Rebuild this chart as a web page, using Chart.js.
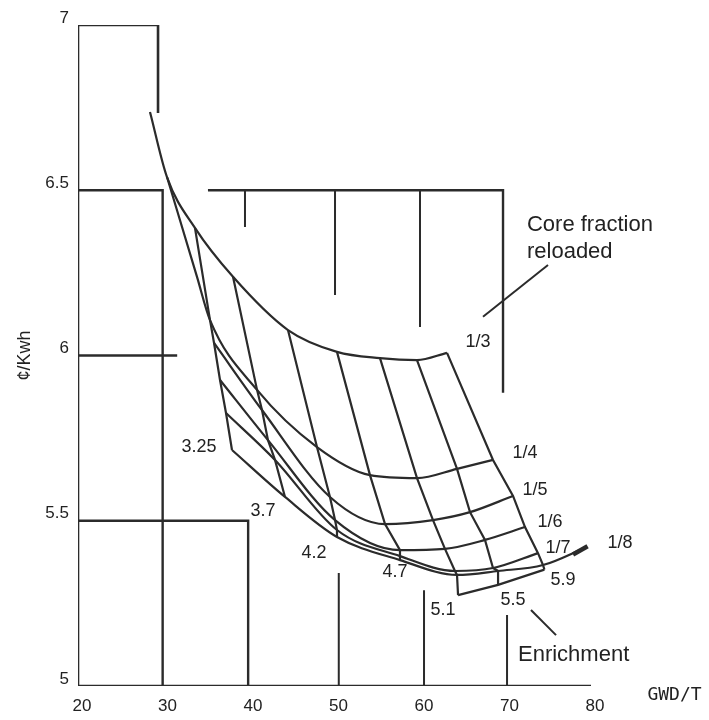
<!DOCTYPE html>
<html lang="en">
<head>
    <meta charset="UTF-8">
    <title>Fuel cycle cost vs burnup</title>
    <script src="https://cdn.jsdelivr.net/npm/chart.js"></script>
    <style>
        body { margin: 0; padding: 0; background: #fff; }
        canvas { display: block; }
    </style>
</head>
<body>
    <canvas id="costChart" width="709" height="720"></canvas>
    <script>
        // enrichment (%) and core fraction reloaded
        const enrichment = ['3.25', '3.7', '4.2', '4.7', '5.1', '5.5', '5.9'];
        const fractions = ['1/3', '1/4', '1/5', '1/6', '1/7', '1/8'];

        // burnup (GWD/T) and cost (cents/Kwh) per core fraction, one value per enrichment
        const burnup3 = [33.68, 38.13, 44.56, 50.29, 55.32, 59.65, 63.16];
        const cost3   = [6.386, 6.238, 6.077, 6.011, 5.992, 5.986, 6.008];
        const burnup4 = [35.44, 40.94, 47.95, 54.15, 59.65, 64.33, 68.54];
        const cost4   = [6.107, 5.896, 5.723, 5.638, 5.629, 5.657, 5.684];
        const burnup5 = [35.91, 41.52, 49.47, 55.91, 61.52, 65.85, 70.88];
        const cost5   = [6.038, 5.835, 5.572, 5.490, 5.502, 5.526, 5.575];
        const burnup6 = [36.61, 42.22, 50.06, 57.66, 62.92, 67.60, 72.28];
        const cost6   = [5.926, 5.744, 5.502, 5.411, 5.415, 5.442, 5.481];
        const burnup7 = [37.31, 43.04, 50.29, 57.66, 64.09, 68.54, 73.80];
        const cost7   = [5.826, 5.684, 5.472, 5.393, 5.348, 5.357, 5.402];
        const burnup8 = [38.01, 44.21, 50.29, 57.66, 64.33, 69.13, 74.39];
        const cost8   = [5.714, 5.572, 5.451, 5.381, 5.336, 5.348, 5.366];

        // low enrichment tails of the 1/3 and 1/4 curves
        const tailBurnup3 = [28.42, 30.41];
        const tailCost3   = [6.737, 6.540];
        const tailBurnup4 = [30.41, 33.92];
        const tailCost4   = [6.540, 6.238];

        // 1/8 curve running out to its label
        const pointerBurnup8 = [79.53];
        const pointerCost8   = [5.421];

        // lowest edge for the three highest enrichments
        const edgeBurnup = [64.45, 69.13, 74.55];
        const edgeCost   = [5.275, 5.306, 5.352];

        // drafting frame
        const frameX = [29.36, 29.36, 20, 20, 80];
        const frameY = [6.734, 7, 7, 5, 5];
        const step65X = [20, 29.9, 29.9];
        const step65Y = [6.5, 6.5, 5];
        const step6X = [20, 31.6];
        const step6Y = [6, 6];
        const step55X = [20, 39.9, 39.9];
        const step55Y = [5.5, 5.5, 5];
        const barX = [50.5, 60.47, 70.18];
        const barTop = [5.342, 5.29, 5.215];
        const bracketX = [35.2, 69.71, 69.71];
        const bracketY = [6.5, 6.5, 5.887];
        const bracketTickX = [39.53, 50.06, 60.0];
        const bracketTickEnd = [6.389, 6.183, 6.086];

        // leader lines
        const coreLeaderX = [67.37, 74.97];
        const coreLeaderY = [6.117, 6.274];
        const enrLeaderX = [72.98, 75.91];
        const enrLeaderY = [5.230, 5.154];
        const arrowX = [77.9, 79.6];
        const arrowY = [5.398, 5.423];

        // label anchors
        const fracLabelX = [66.78, 72.28, 73.45, 75.20, 76.14, 83.39];
        const fracLabelY = [6.041, 5.705, 5.593, 5.496, 5.418, 5.433];
        const enrLabelX = [34.15, 41.64, 47.60, 57.08, 62.69, 70.88, 76.73];
        const enrLabelY = [5.723, 5.529, 5.402, 5.345, 5.230, 5.260, 5.321];

        const ink = '#2b2b2b';

        function pts(xs, ys) {
            return xs.map((x, i) => ({ x: x, y: ys[i] }));
        }
        function line(xs, ys, curved, width) {
            return {
                data: pts(xs, ys),
                showLine: true,
                borderColor: ink,
                borderWidth: width || 2.2,
                pointRadius: 0,
                tension: 0,
                cubicInterpolationMode: curved ? 'monotone' : 'default'
            };
        }

        const rows = [
            [burnup3, cost3], [burnup4, cost4], [burnup5, cost5],
            [burnup6, cost6], [burnup7, cost7], [burnup8, cost8]
        ];

        const datasets = [];
        // frame
        datasets.push(line(frameX, frameY, false, 2.6));
        datasets.push(line(step65X, step65Y, false, 2.4));
        datasets.push(line(step6X, step6Y, false, 2.4));
        datasets.push(line(step55X, step55Y, false, 2.4));
        barX.forEach((x, i) => datasets.push(line([x, x], [barTop[i], 5], false, 2)));
        datasets.push(line(bracketX, bracketY, false, 2.4));
        bracketTickX.forEach((x, i) => datasets.push(line([x, x], [6.5, bracketTickEnd[i]], false, 2)));

        // core fraction curves
        datasets.push(line(tailBurnup3.concat(burnup3), tailCost3.concat(cost3), true));
        datasets.push(line(tailBurnup4.concat(burnup4), tailCost4.concat(cost4), true));
        datasets.push(line(burnup5, cost5, true));
        datasets.push(line(burnup6, cost6, true));
        datasets.push(line(burnup7, cost7, true));
        datasets.push(line(burnup8.concat(pointerBurnup8), cost8.concat(pointerCost8), true));
        datasets.push(line(edgeBurnup, edgeCost, false));
        datasets.push(line(arrowX, arrowY, false, 4.5));

        // enrichment lines
        enrichment.forEach((e, j) => {
            const xs = rows.map(r => r[0][j]);
            const ys = rows.map(r => r[1][j]);
            if (j >= 4) { xs.push(edgeBurnup[j - 4]); ys.push(edgeCost[j - 4]); }
            datasets.push(line(xs, ys, false));
        });

        // leaders
        datasets.push(line(coreLeaderX, coreLeaderY, false, 2));
        datasets.push(line(enrLeaderX, enrLeaderY, false, 2));

        const textPlugin = {
            id: 'carpetText',
            afterDraw(chart) {
                const ctx = chart.ctx;
                const xs = chart.scales.x, ys = chart.scales.y;
                ctx.save();
                ctx.fillStyle = '#222';
                ctx.textAlign = 'center';
                ctx.textBaseline = 'middle';
                ctx.font = '18px "Liberation Sans", Arial, sans-serif';
                fractions.forEach((f, i) => {
                    ctx.fillText(f, xs.getPixelForValue(fracLabelX[i]), ys.getPixelForValue(fracLabelY[i]));
                });
                enrichment.forEach((e, i) => {
                    ctx.fillText(e, xs.getPixelForValue(enrLabelX[i]), ys.getPixelForValue(enrLabelY[i]));
                });
                ctx.textAlign = 'left';
                ctx.font = '22px "Liberation Sans", Arial, sans-serif';
                ctx.fillText('Core fraction', xs.getPixelForValue(72.51), ys.getPixelForValue(6.395));
                ctx.fillText('reloaded', xs.getPixelForValue(72.51), ys.getPixelForValue(6.313));
                ctx.fillText('Enrichment', xs.getPixelForValue(71.46), ys.getPixelForValue(5.094));
                ctx.font = '18px "DejaVu Sans Mono", monospace';
                ctx.fillText('GWD/T', xs.getPixelForValue(86.6), ys.getPixelForValue(4.973));
                ctx.restore();
            }
        };

        new Chart(document.getElementById('costChart').getContext('2d'), {
            type: 'scatter',
            data: { datasets: datasets },
            options: {
                responsive: false,
                animation: false,
                layout: { padding: { top: 25, right: 118, left: 0, bottom: 0 } },
                plugins: { legend: { display: false }, tooltip: { enabled: false } },
                scales: {
                    x: {
                        min: 20, max: 80,
                        afterFit: s => { s.height = 34; },
                        grid: { display: false, drawTicks: false },
                        border: { display: false },
                        ticks: {
                            stepSize: 10, padding: 10, labelOffset: 4, color: '#222',
                            font: { size: 17, family: '"Liberation Sans", Arial, sans-serif' }
                        }
                    },
                    y: {
                        min: 5, max: 7,
                        afterFit: s => { s.width = 78; },
                        grid: { display: false, drawTicks: false },
                        border: { display: false },
                        title: {
                            display: true, text: '¢/Kwh', color: '#222',
                            padding: { top: 14, bottom: 0 },
                            font: { size: 18, family: '"Liberation Sans", Arial, sans-serif' }
                        },
                        ticks: {
                            stepSize: 0.5, padding: 9, labelOffset: -7, color: '#222',
                            callback: v => String(v),
                            font: { size: 17, family: '"Liberation Sans", Arial, sans-serif' }
                        }
                    }
                }
            },
            plugins: [textPlugin]
        });
    </script>
</body>
</html>
